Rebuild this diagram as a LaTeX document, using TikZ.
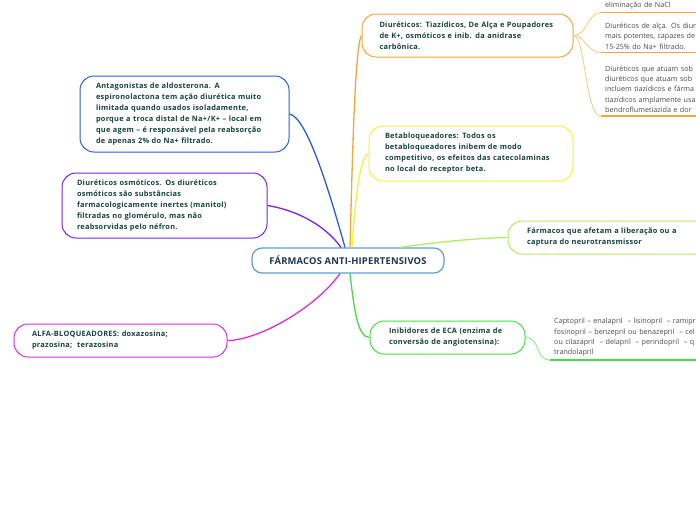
\documentclass[tikz,border=0pt]{standalone}
\usepackage{fontspec}
\setmainfont{Open Sans}
\newfontfamily\spfont[LetterSpace=3.5]{Open Sans}
\newfontfamily\cspfont[LetterSpace=2]{Open Sans}
\definecolor{cOr}{HTML}{F5A53A}
\definecolor{cOrL}{HTML}{FBC77A}
\definecolor{cYe}{HTML}{F2F23A}
\definecolor{cLg}{HTML}{B0EE60}
\definecolor{cGr}{HTML}{44DD44}
\definecolor{cGrL}{HTML}{80E880}
\definecolor{cBl}{HTML}{2A5BE8}
\definecolor{cPu}{HTML}{7A22E8}
\definecolor{cMa}{HTML}{E02AE0}
\definecolor{cCe}{HTML}{5E9ED6}
\definecolor{txt}{HTML}{16443A}
\definecolor{ctxt}{HTML}{1F3550}
\definecolor{leaftxt}{HTML}{4A4A4A}
\newcommand\nodefnt{\spfont\fontsize{7.4}{11}\selectfont\bfseries}
\newcommand\leaffnt{\fontsize{7.2}{10.3}\selectfont}
\begin{document}
\begin{tikzpicture}[x=1pt,y=-1pt,
 box/.style={draw, line width=1pt, rounded corners=14pt, fill=white, align=left, inner sep=0pt, font=\nodefnt, text=txt},
 leaf/.style={anchor=south west, align=left, inner xsep=4pt, inner ysep=3.2pt, text width=150pt, font=\leaffnt, text=leaftxt},
 conn/.style={line width=1.3pt},
 lconn/.style={line width=0.8pt},
 uline/.style={line width=1.8pt},
]
\useasboundingbox (0,0) rectangle (696,520);
\clip (0,0) rectangle (696,520);

% central node
\node[draw=cCe, line width=1.2pt, rounded corners=10pt, fill=white, minimum width=192pt, minimum height=25pt, inner sep=0pt, font=\cspfont\fontsize{9.4}{11}\selectfont\bfseries, text=ctxt] (cen) at (348,260.5) {FÁRMACOS ANTI-HIPERTENSIVOS};

% right branch nodes
\node[box, draw=cOr, minimum width=211pt, minimum height=43pt, text width=176pt] (diu) at (467.5,35.5) {Diuréticos: Tiazídicos, De Alça e Poupadores\\de K+, osmóticos e inib. da anidrase\\carbônica.};
\node[box, draw=cYe, minimum width=204pt, minimum height=55pt, text width=172pt] (bet) at (471,153.5) {Betabloqueadores: Todos os\\betabloqueadores inibem de modo\\competitivo, os efeitos das catecolaminas\\no local do receptor beta.};
\node[box, draw=cLg, minimum width=220pt, minimum height=33pt, text width=182pt] (far) at (618,237.5) {Fármacos que afetam a liberação ou a\\captura do neurotransmissor};
\node[box, draw=cGr, minimum width=155pt, minimum height=33pt, text width=117pt] (ini) at (447.5,337.5) {Inibidores de ECA (enzima de\\conversão de angiotensina):};

% left branch nodes
\node[box, draw=cBl, minimum width=209pt, minimum height=76pt, text width=177pt] (ant) at (184.5,114) {Antagonistas de aldosterona. A\\espironolactona tem ação diurética muito\\limitada quando usados isoladamente,\\porque a troca distal de Na+/K+ – local em\\que agem – é responsável pela reabsorção\\de apenas 2\% do Na+ filtrado.};
\node[box, draw=cPu, minimum width=205pt, minimum height=65pt, text width=175pt] (osm) at (164.5,205.5) {Diuréticos osmóticos. Os diuréticos\\osmóticos são substâncias\\farmacologicamente inertes (manitol)\\filtradas no glomérulo, mas não\\reabsorvidas pelo néfron.};
\node[box, draw=cMa, minimum width=213pt, minimum height=33pt, text width=177pt] (alf) at (120.5,340.5) {ALFA-BLOQUEADORES: doxazosina;\\prazosina;\ \ terazosina};

% leaves
\node[leaf] (l1) at (601,12.5) {eliminação de NaCl};
\node[leaf] (l2) at (601,52.5) {Diuréticos de alça. Os diur\\mais potentes, capazes de\\15-25\% do Na+ filtrado.};
\node[leaf] (l3) at (601,116) {Diuréticos que atuam sob\\diuréticos que atuam sob\\incluem tiazídicos e fárma\\tiazídicos amplamente usa\\bendroflumetiazida e dor};
\node[leaf] (l4) at (550,360) {Captopril – enalapril\ \ – lisinopril\ \ – ramipr\\fosinopril – benzepril ou benazepril\ \ – cel\\ou cilazapril\ \ – delapril\ \ – perindopril\ \ – q\\trandolapril};

\draw[uline, cOr] (l1.south west) -- (l1.south east);
\draw[uline, cOr] (l2.south west) -- (l2.south east);
\draw[uline, cOr] (l3.south west) -- (l3.south east);
\draw[uline, cGr] (l4.south west) -- (l4.south east);

% leaf connectors
\draw[lconn, cOrL] (diu.east) .. controls +(14,0) and +(-14,0) .. (l1.south west);
\draw[lconn, cOrL] (diu.east) .. controls +(12,0) and +(-14,0) .. (l2.south west);
\draw[lconn, cOrL] (diu.east) .. controls +(12,0) and +(-16,0) .. (l3.south west);
\draw[lconn, cGrL] (ini.east) .. controls +(15,0) and +(-15,0) .. (l4.south west);

% main connectors
\draw[conn, cBl] (ant.east) .. controls +(18,3) and +(-14,-50) .. ([xshift=-3pt]cen.north);
\draw[conn, cOr] ([xshift=2pt]cen.north) .. controls +(2,-70) and +(-7,10) .. (diu.west);
\draw[conn, cYe] ([xshift=4pt]cen.north) .. controls +(3,-45) and +(-9,3) .. (bet.west);
\draw[conn, cPu] (osm.east) .. controls +(25,4) and +(-18,-25) .. ([xshift=-7pt]cen.north);
\draw[conn, cLg] ([xshift=52pt]cen.north) .. controls +(40,-6) and +(-20,0) .. (far.west);
\draw[conn, cMa] (alf.east) .. controls +(30,0) and +(-25,35) .. ([xshift=-8pt]cen.south);
\draw[conn, cGr] ([xshift=2pt]cen.south) .. controls +(4,35) and +(-12,0) .. (ini.west);
\end{tikzpicture}
\end{document}
